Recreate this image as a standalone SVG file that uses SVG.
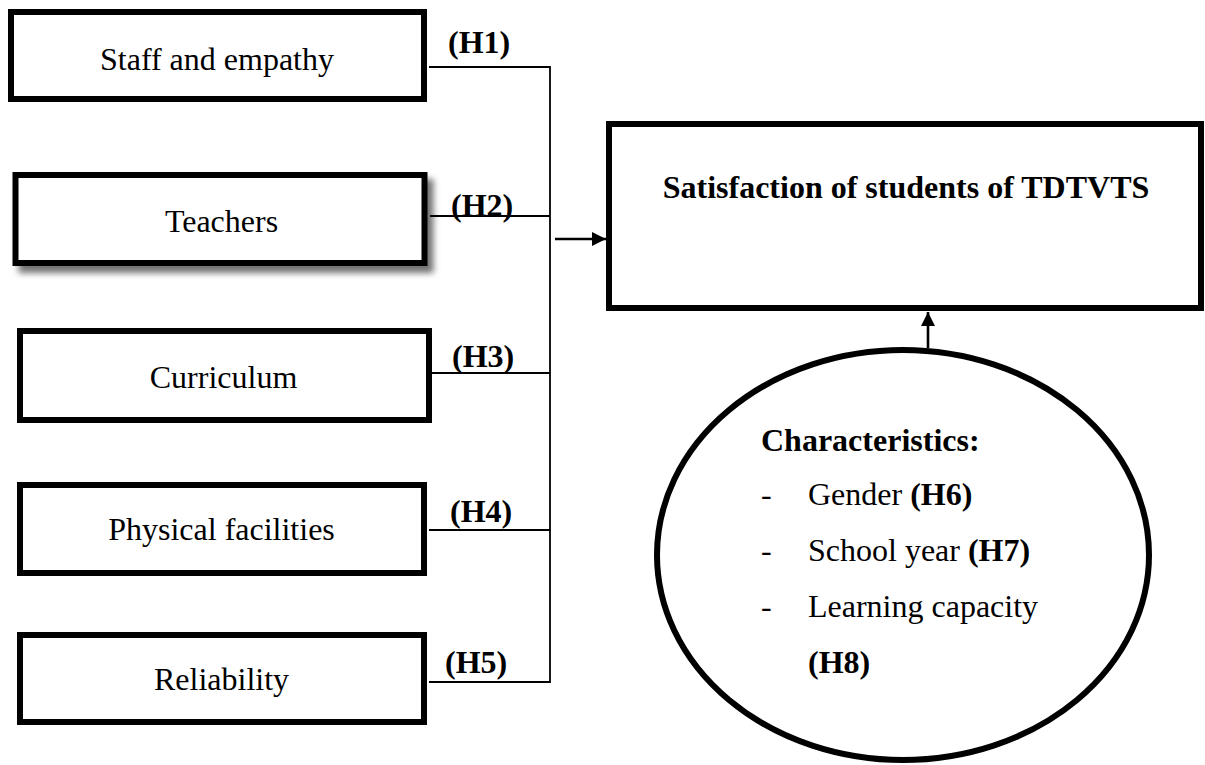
<svg xmlns="http://www.w3.org/2000/svg" width="1205" height="765" viewBox="0 0 1205 765">
  <style>
    .box { fill: #fff; stroke: #000; stroke-width: 6; }
    .lbl { font-family: "Liberation Serif", "Times New Roman", serif; font-size: 32px; fill: #000; }
    .b { font-weight: bold; }
    .link { stroke: #000; stroke-width: 1.8; fill: none; }
    .arrow { stroke: #000; stroke-width: 2.6; fill: none; }
  </style>
  <defs>
    <filter id="shadow" x="-10%" y="-20%" width="125%" height="150%">
      <feDropShadow dx="6" dy="7" stdDeviation="3" flood-color="#000" flood-opacity="0.55"/>
    </filter>
    <marker id="head" viewBox="0 0 10 10" refX="10" refY="5" markerWidth="14" markerHeight="14" markerUnits="userSpaceOnUse" orient="auto">
      <path d="M0,0 L10,5 L0,10 Z" fill="#000"/>
    </marker>
  </defs>

  <rect width="1205" height="765" fill="#fff"/>

  <!-- connectors -->
  <g id="connectors">
    <path class="link" d="M429,67 H550 V682 H429"/>
    <path class="link" d="M430,216 H550"/>
    <path class="link" d="M432,373 H550"/>
    <path class="link" d="M429,530 H550"/>
    <path class="arrow" d="M555,239 H606" marker-end="url(#head)"/>
    <path class="arrow" d="M928,348 V312" marker-end="url(#head)"/>
    <text class="lbl b" x="448" y="53">(H1)</text>
    <text class="lbl b" x="451" y="216">(H2)</text>
    <text class="lbl b" x="452" y="367">(H3)</text>
    <text class="lbl b" x="450" y="522">(H4)</text>
    <text class="lbl b" x="445" y="673">(H5)</text>
  </g>

  <g id="staff">
    <rect class="box" x="11" y="12" width="413" height="87"/>
    <text class="lbl" x="217" y="70" text-anchor="middle">Staff and empathy</text>
  </g>

  <g id="teachers">
    <rect class="box" x="15.5" y="175" width="409" height="88" filter="url(#shadow)"/>
    <text class="lbl" x="221.5" y="232" text-anchor="middle">Teachers</text>
  </g>

  <g id="curriculum">
    <rect class="box" x="20" y="331" width="409" height="89"/>
    <text class="lbl" x="223.5" y="388" text-anchor="middle">Curriculum</text>
  </g>

  <g id="facilities">
    <rect class="box" x="20" y="485" width="404" height="88"/>
    <text class="lbl" x="221.5" y="540" text-anchor="middle">Physical facilities</text>
  </g>

  <g id="reliability">
    <rect class="box" x="20" y="635" width="404" height="87"/>
    <text class="lbl" x="221.5" y="690" text-anchor="middle">Reliability</text>
  </g>

  <g id="satisfaction">
    <rect class="box" x="609" y="124" width="592" height="184"/>
    <text class="lbl b" x="906" y="198" text-anchor="middle">Satisfaction of students of TDTVTS</text>
  </g>

  <g id="characteristics">
    <ellipse class="box" cx="903" cy="555" rx="246" ry="205"/>
    <text class="lbl b" x="761" y="451">Characteristics:</text>
    <text class="lbl" x="761" y="505">-</text>
    <text class="lbl" x="808" y="505">Gender <tspan class="b">(H6)</tspan></text>
    <text class="lbl" x="761" y="561">-</text>
    <text class="lbl" x="808" y="561">School year <tspan class="b">(H7)</tspan></text>
    <text class="lbl" x="761" y="617">-</text>
    <text class="lbl" x="808" y="617">Learning capacity</text>
    <text class="lbl b" x="808" y="673">(H8)</text>
  </g>
</svg>
